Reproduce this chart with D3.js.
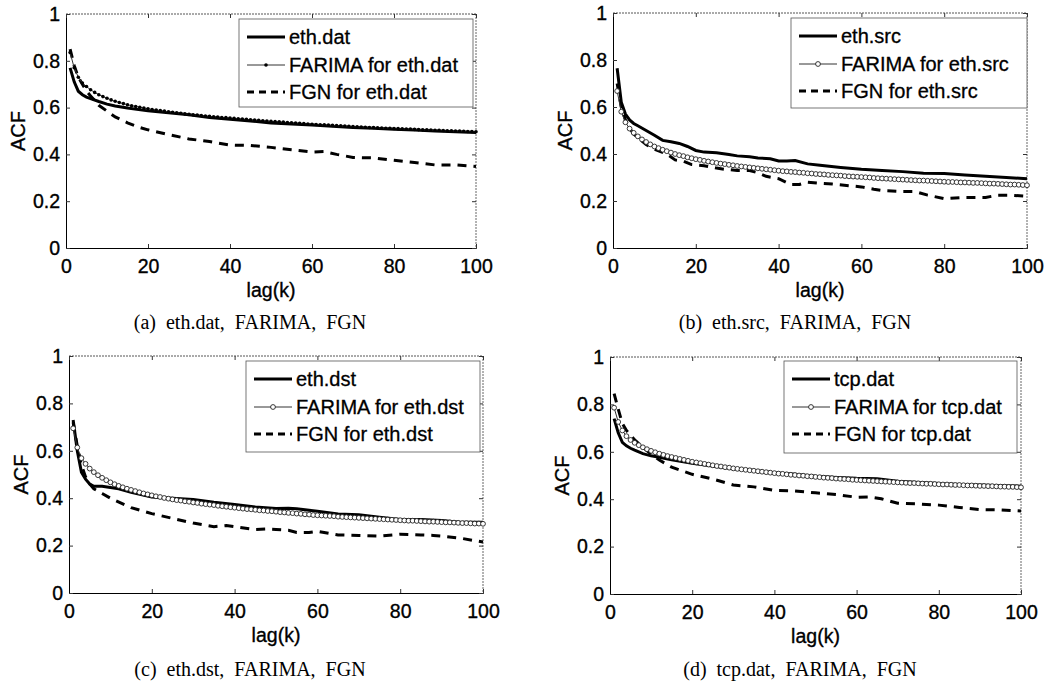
<!DOCTYPE html>
<html><head><meta charset="utf-8">
<script src="https://cdn.jsdelivr.net/npm/d3@7"></script>
<style>body{margin:0;background:#fff} svg{display:block}</style>
</head><body>
<svg id="chart" width="1056" height="685"></svg>
<script>
// ---------- data ----------
const xTicks = [0, 20, 40, 60, 80, 100];
const yTicks = [0, 0.2, 0.4, 0.6, 0.8, 1];
const farimaLags = d3.range(1, 101);

// (a) eth.dat
const ethDatLags = [1,2,3,4,5,6,8,10,12,15,20,25,30,35,40,45,50,55,60,65,70,75,80,85,90,95,100];
const ethDatVals = [.77,.71,.67,.655,.645,.638,.626,.615,.607,.598,.586,.578,.569,.558,.55,.543,.534,.53,.526,.52,.515,.512,.508,.504,.5,.497,.494];
const farimaEthDat = [.835,.770,.730,.705,.690,.676,.665,.655,.647,.640,
 .633,.627,.622,.617,.612,.608,.605,.601,.598,.595,
 .592,.590,.587,.585,.582,.580,.578,.576,.573,.571,
 .569,.568,.566,.564,.563,.561,.560,.558,.557,.555,
 .554,.552,.551,.550,.548,.547,.546,.544,.543,.541,
 .540,.539,.538,.536,.535,.534,.533,.532,.530,.529,
 .528,.527,.526,.525,.524,.523,.522,.521,.520,.519,
 .518,.517,.516,.515,.515,.514,.513,.512,.512,.511,
 .510,.509,.508,.508,.507,.506,.505,.505,.504,.503,
 .503,.502,.501,.501,.500,.500,.499,.498,.498,.497];
const fgnEthDatLags = [1,2,3,4,5,6,7,8,10,12,15,18,20,25,30,35,40,45,50,55,60,63,66,70,75,80,85,90,95,100];
const fgnEthDatVals = [.85,.78,.73,.70,.67,.65,.63,.61,.585,.56,.535,.515,.505,.485,.466,.455,.44,.438,.43,.42,.41,.412,.40,.387,.385,.375,.365,.355,.355,.348];

// (b) eth.src
const ethSrcLags = [1,2,3,4,5,6,8,10,12,14,16,18,20,22,25,28,30,33,35,38,40,42,44,47,50,55,60,65,70,75,80,85,90,95,100];
const ethSrcVals = [.765,.62,.57,.545,.53,.52,.50,.48,.458,.452,.445,.432,.415,.408,.405,.398,.392,.388,.383,.38,.37,.37,.372,.358,.352,.343,.335,.33,.325,.318,.317,.311,.305,.3,.295];
const farimaEthSrc = [.668,.580,.535,.508,.490,.475,.462,.451,.441,.432,
 .425,.418,.412,.406,.400,.395,.391,.386,.382,.378,
 .375,.371,.368,.365,.362,.359,.357,.354,.352,.349,
 .347,.345,.343,.341,.339,.337,.335,.333,.331,.329,
 .327,.326,.324,.323,.321,.320,.318,.317,.315,.314,
 .313,.311,.310,.309,.308,.306,.305,.304,.303,.302,
 .301,.300,.298,.297,.296,.295,.294,.293,.292,.291,
 .290,.289,.288,.287,.287,.286,.285,.284,.283,.282,
 .281,.281,.280,.279,.279,.278,.277,.277,.276,.275,
 .274,.274,.273,.272,.271,.270,.270,.269,.268,.267];
const fgnEthSrcLags = [1,2,3,4,5,6,8,10,13,15,17,19,22,25,27,30,33,35,37,40,43,45,47,50,53,57,60,63,65,70,73,76,80,85,88,90,93,96,100];
const fgnEthSrcVals = [.70,.60,.545,.51,.485,.47,.44,.42,.40,.375,.37,.355,.35,.34,.335,.33,.33,.32,.305,.295,.27,.27,.28,.275,.272,.265,.26,.25,.245,.24,.24,.225,.21,.215,.215,.215,.225,.225,.22];

// (c) eth.dst
const ethDstLags = [1,2,3,4,5,6,8,10,12,15,20,25,30,35,40,45,50,53,55,60,65,70,75,80,85,90,95,100];
const ethDstVals = [.73,.60,.51,.48,.46,.45,.45,.445,.44,.425,.405,.40,.395,.383,.373,.363,.357,.358,.355,.345,.333,.33,.32,.31,.31,.306,.298,.298];
const farimaEthDst = [.695,.614,.569,.545,.525,.510,.497,.486,.476,.467,
 .459,.452,.446,.440,.435,.430,.425,.420,.416,.412,
 .408,.405,.401,.398,.395,.392,.390,.387,.385,.382,
 .380,.377,.375,.373,.371,.368,.366,.364,.362,.360,
 .358,.356,.354,.353,.351,.349,.348,.346,.345,.343,
 .341,.340,.338,.337,.335,.334,.332,.331,.329,.328,
 .327,.326,.325,.324,.322,.321,.320,.319,.318,.317,
 .316,.315,.314,.313,.312,.311,.310,.309,.308,.307,
 .306,.305,.305,.304,.303,.302,.301,.301,.300,.299,
 .298,.298,.297,.296,.295,.295,.294,.293,.293,.292];
const fgnEthDstLags = [1,2,3,4,5,6,8,10,15,20,25,30,35,38,40,45,48,50,53,55,58,60,65,70,75,80,85,88,90,95,100];
const fgnEthDstVals = [.72,.62,.54,.49,.46,.44,.42,.40,.36,.335,.315,.295,.28,.285,.28,.268,.27,.268,.265,.255,.255,.26,.245,.243,.24,.248,.245,.243,.24,.23,.215];

// (d) tcp.dat
const tcpDatLags = [1,2,3,4,5,6,8,10,12,15,20,25,30,35,40,45,50,55,60,65,70,75,80,85,90,95,100];
const tcpDatVals = [.74,.68,.64,.625,.615,.607,.592,.583,.577,.566,.552,.54,.53,.521,.512,.505,.497,.492,.488,.486,.476,.47,.466,.462,.46,.457,.455];
const farimaTcpDat = [.786,.726,.690,.666,.650,.638,.628,.619,.611,.604,
 .598,.592,.587,.582,.578,.574,.570,.566,.562,.558,
 .555,.552,.549,.546,.543,.540,.538,.535,.533,.530,
 .528,.526,.524,.522,.520,.518,.516,.514,.512,.510,
 .508,.507,.505,.503,.502,.500,.499,.497,.496,.494,
 .493,.491,.490,.489,.487,.486,.485,.484,.482,.481,
 .480,.479,.478,.477,.476,.475,.474,.473,.472,.471,
 .470,.469,.468,.468,.467,.466,.465,.465,.464,.463,
 .462,.462,.461,.460,.460,.459,.458,.458,.457,.456,
 .456,.455,.455,.454,.453,.453,.452,.452,.451,.450];
const fgnTcpDatLags = [1,2,3,4,5,6,8,10,12,15,20,25,30,35,40,45,50,55,60,63,66,70,75,80,85,90,95,100];
const fgnTcpDatVals = [.845,.78,.72,.69,.67,.65,.62,.59,.565,.535,.505,.485,.46,.452,.437,.435,.427,.42,.408,.41,.402,.383,.38,.375,.365,.356,.355,.35];

const legendNames = [
  ["eth.dat", "FARIMA for eth.dat", "FGN for eth.dat"],
  ["eth.src", "FARIMA for eth.src", "FGN for eth.src"],
  ["eth.dst", "FARIMA for eth.dst", "FGN for eth.dst"],
  ["tcp.dat", "FARIMA for tcp.dat", "FGN for tcp.dat"]
];
const captions = ["(a)  eth.dat,  FARIMA,  FGN", "(b)  eth.src,  FARIMA,  FGN",
                  "(c)  eth.dst,  FARIMA,  FGN", "(d)  tcp.dat,  FARIMA,  FGN"];

// ---------- layout ----------
const panels = [
  {left:66, right:476, top:14, bottom:248, lg:{x:239, y:19, w:234, h:88}, cap:{x:250, y:329}, marker:"dot",
   meas:[ethDatLags, ethDatVals], farima:farimaEthDat, fgn:[fgnEthDatLags, fgnEthDatVals]},
  {left:613, right:1027, top:13, bottom:248, lg:{x:791, y:18, w:236, h:90}, cap:{x:795, y:329}, marker:"circle",
   meas:[ethSrcLags, ethSrcVals], farima:farimaEthSrc, fgn:[fgnEthSrcLags, fgnEthSrcVals]},
  {left:69, right:483, top:356, bottom:593, lg:{x:246, y:361, w:234, h:91}, cap:{x:250, y:676}, marker:"circle",
   meas:[ethDstLags, ethDstVals], farima:farimaEthDst, fgn:[fgnEthDstLags, fgnEthDstVals]},
  {left:610, right:1021, top:357, bottom:594, lg:{x:784, y:361, w:233, h:92}, cap:{x:800, y:676}, marker:"circle",
   meas:[tcpDatLags, tcpDatVals], farima:farimaTcpDat, fgn:[fgnTcpDatLags, fgnTcpDatVals]}
];

const svg = d3.select("#chart");
const sans = "'Liberation Sans', Arial, Helvetica, sans-serif";
const serif = "'Liberation Serif', 'Times New Roman', serif";
const fmt = d3.format("~g");

panels.forEach((p, i) => {
  const x = d3.scaleLinear().domain([0, 100]).range([p.left, p.right]);
  const y = d3.scaleLinear().domain([0, 1]).range([p.bottom, p.top]);
  const g = svg.append("g");

  // frame (top/right appear dotted in the scan)
  g.append("line").attr("x1", p.left).attr("x2", p.right).attr("y1", p.top).attr("y2", p.top)
    .attr("stroke", "#555").attr("stroke-dasharray", "2,1");
  g.append("line").attr("x1", p.right).attr("x2", p.right).attr("y1", p.top).attr("y2", p.bottom)
    .attr("stroke", "#666").attr("stroke-dasharray", "2,1");

  // axes
  const gx = g.append("g").attr("transform", `translate(0,${p.bottom})`)
    .call(d3.axisBottom(x).tickValues(xTicks).tickFormat(fmt).tickSize(-4).tickPadding(11));
  const gy = g.append("g").attr("transform", `translate(${p.left},0)`)
    .call(d3.axisLeft(y).tickValues(yTicks).tickFormat(fmt).tickSize(-4).tickPadding(6));
  g.append("g").attr("transform", `translate(0,${p.top})`)
    .call(d3.axisTop(x).tickValues(xTicks).tickFormat("").tickSize(-4)).select(".domain").remove();
  g.append("g").attr("transform", `translate(${p.right},0)`)
    .call(d3.axisRight(y).tickValues(yTicks).tickFormat("").tickSize(-4)).select(".domain").remove();
  [gx, gy].forEach(a => {
    a.selectAll("text").attr("font-family", sans).attr("font-size", 19.5).attr("fill", "#000")
      .attr("stroke", "#000").attr("stroke-width", 0.35);
    a.select(".domain").attr("stroke", "#000");
  });
  g.selectAll(".tick line").attr("stroke", "#333");

  // axis titles
  g.append("text").attr("x", (p.left + p.right) / 2).attr("y", p.bottom + 49)
    .attr("text-anchor", "middle").attr("font-family", sans).attr("font-size", 19.5)
    .attr("stroke", "#000").attr("stroke-width", 0.35).text("lag(k)");
  g.append("text").attr("transform", `translate(${p.left - 41},${(p.top + p.bottom) / 2}) rotate(-90)`)
    .attr("text-anchor", "middle").attr("font-family", sans).attr("font-size", 20)
    .attr("stroke", "#000").attr("stroke-width", 0.35).text("ACF");

  const line = d3.line().x(d => x(d[0])).y(d => y(d[1]));
  const fgnData = p.fgn[0].map((l, j) => [l, p.fgn[1][j]]);
  const measData = p.meas[0].map((l, j) => [l, p.meas[1][j]]);
  const farData = farimaLags.map((l, j) => [l, p.farima[j]]);

  g.append("path").datum(fgnData).attr("d", line).attr("fill", "none")
    .attr("stroke", "#000").attr("stroke-width", 3).attr("stroke-dasharray", "9,7");
  g.append("path").datum(measData).attr("d", line).attr("fill", "none")
    .attr("stroke", "#000").attr("stroke-width", 3);
  g.append("path").datum(farData).attr("d", line).attr("fill", "none")
    .attr("stroke", "#333").attr("stroke-width", 1);
  const mk = g.append("g").selectAll("circle").data(farData).join("circle")
    .attr("cx", d => x(d[0])).attr("cy", d => y(d[1]));
  if (p.marker === "dot") mk.attr("r", 1.8).attr("fill", "#000");
  else mk.attr("r", 2.4).attr("fill", "#fff").attr("stroke", "#222").attr("stroke-width", 0.9);

  // legend
  const lg = g.append("g").attr("transform", `translate(${p.lg.x},${p.lg.y})`);
  lg.append("rect").attr("width", p.lg.w).attr("height", p.lg.h)
    .attr("fill", "#fff").attr("stroke", "#555").attr("stroke-width", 0.8);
  const rows = [18, 46, 73];
  const styles = [
    {w: 3, dash: null, c: "#000"},
    {w: 1, dash: null, c: "#333"},
    {w: 3, dash: "7,5", c: "#000"}
  ];
  legendNames[i].forEach((name, k) => {
    const ry = rows[k];
    lg.append("line").attr("x1", 8).attr("x2", 46).attr("y1", ry).attr("y2", ry)
      .attr("stroke", styles[k].c).attr("stroke-width", styles[k].w)
      .attr("stroke-dasharray", styles[k].dash);
    if (k === 1) {
      const c = lg.append("circle").attr("cx", 27).attr("cy", ry);
      if (p.marker === "dot") c.attr("r", 1.8).attr("fill", "#000");
      else c.attr("r", 2.4).attr("fill", "#fff").attr("stroke", "#222").attr("stroke-width", 0.9);
    }
    lg.append("text").attr("x", 50).attr("y", ry + 7).attr("font-family", sans).attr("font-size", 20)
      .attr("stroke", "#000").attr("stroke-width", 0.3).text(name);
  });

  // caption
  svg.append("text").attr("x", p.cap.x).attr("y", p.cap.y).attr("text-anchor", "middle")
    .attr("font-family", serif).attr("font-size", 20).style("white-space", "pre")
    .attr("xml:space", "preserve").text(captions[i]);
});
</script>
</body></html>
